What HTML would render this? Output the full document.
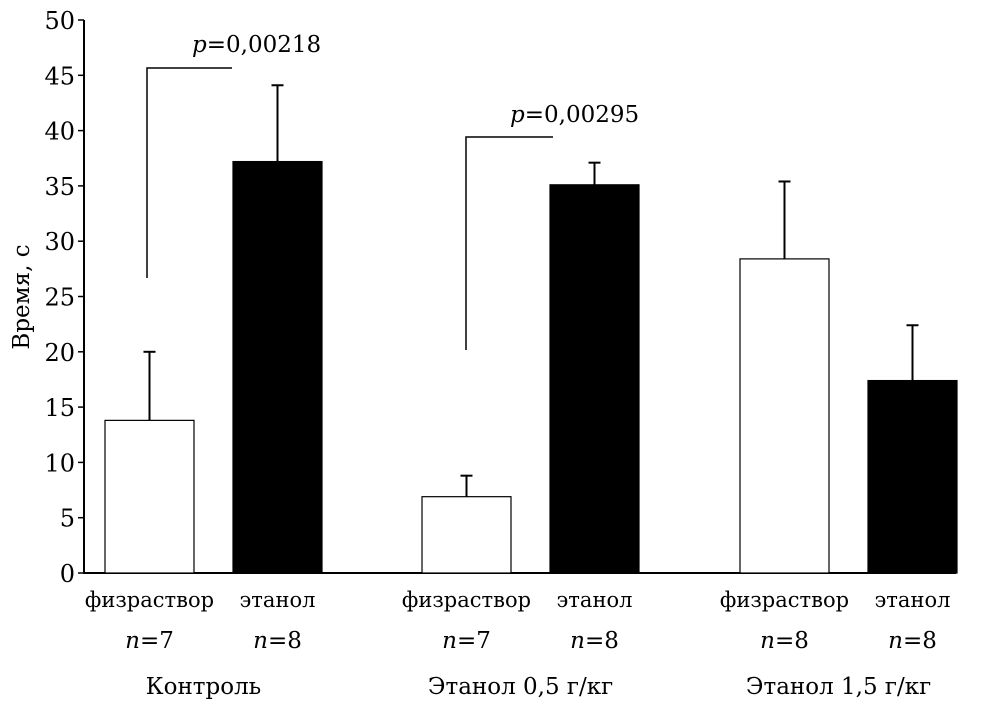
<!DOCTYPE html>
<html><head><meta charset="utf-8"><style>
body{margin:0;background:#fff}
svg{display:block;font-family:"DejaVu Serif","Liberation Serif",serif}
</style></head><body>
<svg id="chart" width="991" height="709" viewBox="0 0 991 709" xmlns="http://www.w3.org/2000/svg">
<g id="axes"></g><g id="bars"></g><g id="labels"></g>
<text transform="translate(29,297) rotate(-90)" text-anchor="middle" font-size="23">Время, с</text>
<text x="192" y="52" font-size="23"><tspan font-style="italic">p</tspan>=0,00218</text>
<text x="510" y="122" font-size="23"><tspan font-style="italic">p</tspan>=0,00295</text>
<polyline points="147,278 147,68 232,68" fill="none" stroke="#000" stroke-width="1.5"/>
<polyline points="466,350 466,137 553,137" fill="none" stroke="#000" stroke-width="1.5"/>
</svg>
<script>
const categories=["физраствор","этанол","физраствор","этанол","физраствор","этанол"];
const nLabels=["7","8","7","8","8","8"];
const groups=["Контроль","Этанол 0,5 г/кг","Этанол 1,5 г/кг"];
const means=[13.8,37.2,6.9,35.1,28.4,17.4];
const errors=[6.2,6.9,1.9,2.0,7.0,5.0];
const yTicks=[0,5,10,15,20,25,30,35,40,45,50];
const barLeft=[105,233,422,550,740,868];
const NS="http://www.w3.org/2000/svg";
const y=v=>573-v*(553/50);
function el(t,a,p){const e=document.createElementNS(NS,t);for(const k in a)e.setAttribute(k,a[k]);document.getElementById(p).appendChild(e);return e;}
let ax=el('line',{x1:84,y1:20,x2:84,y2:574,stroke:'#000','stroke-width':2},'axes');


let xa=el('line',{x1:83,y1:573,x2:956,y2:573,stroke:'#000','stroke-width':2},'axes');


yTicks.forEach(t=>{
 let l=el('line',{x1:78,x2:84,y1:y(t),y2:y(t),stroke:'#000','stroke-width':1.5},'axes');
 
 
 let tx=el('text',{x:75,y:y(t)+9,'text-anchor':'end','font-size':24},'axes');
 tx.textContent=t;
 
 
});
means.forEach((m,i)=>{
 const x0=barLeft[i],w=89,black=i%2===1,cx=x0+w/2;
 let r=el('rect',{x:x0,y:y(m),width:w,height:y(0)-y(m),fill:black?'#000':'#fff',stroke:'#000','stroke-width':1.2},'bars');
 
 
 let e=el('line',{x1:cx,x2:cx,y1:y(m),y2:y(m+errors[i]),stroke:'#000','stroke-width':2},'bars');
 
 
 let c=el('line',{x1:cx-6,x2:cx+6,y1:y(m+errors[i]),y2:y(m+errors[i]),stroke:'#000','stroke-width':2},'bars');
 
 
 let t=el('text',{x:cx,y:607,'text-anchor':'middle','font-size':21},'labels');
 t.textContent=categories[i];
 
 
 let n=el('text',{x:cx,y:648,'text-anchor':'middle','font-size':23},'labels');
 n.innerHTML='<tspan font-style="italic">n</tspan>=8'.replace('8',nLabels[i]);
 
 
});
groups.forEach((g,k)=>{
 const cx=(barLeft[2*k]+barLeft[2*k+1]+89)/2-10;
 let t=el('text',{x:cx,y:694,'text-anchor':'middle','font-size':23},'labels');
 t.textContent=g;
 
 
});
</script>
</body></html>
